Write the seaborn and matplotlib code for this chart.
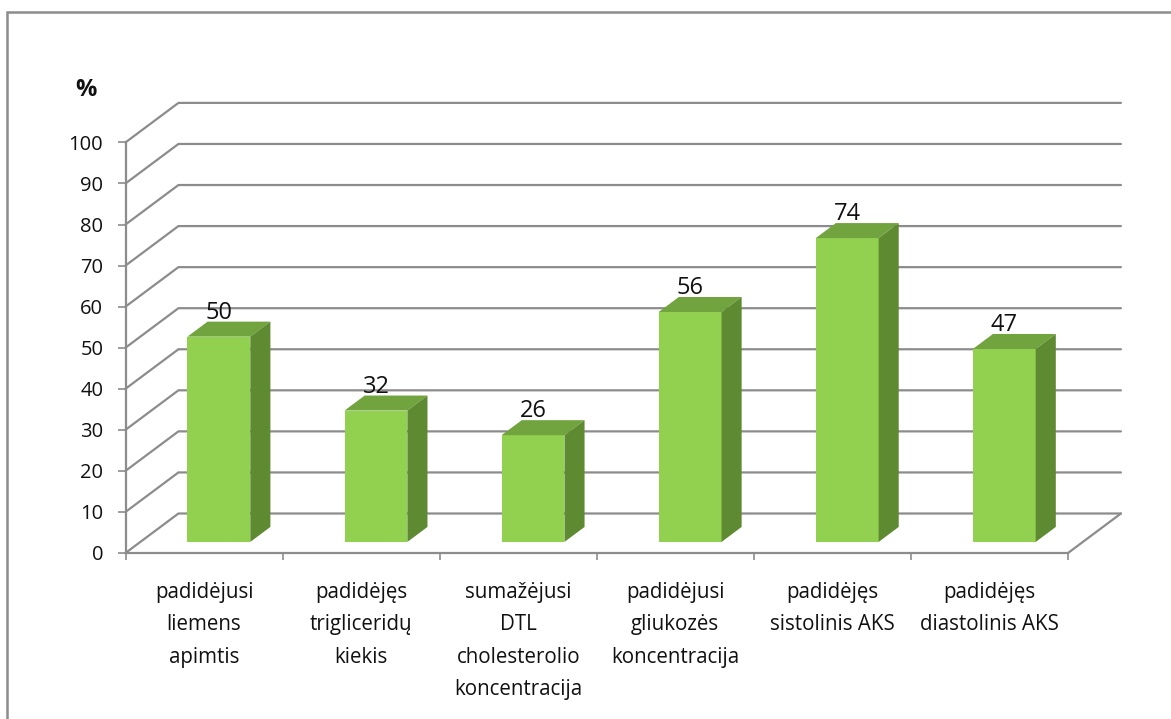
import matplotlib
matplotlib.use("Agg")
import matplotlib.pyplot as plt
from matplotlib.patches import Polygon, Rectangle
import seaborn as sns

# Risk factor prevalence, %
categories = [
    "padidėjusi\nliemens\napimtis",
    "padidėjęs\ntrigliceridų\nkiekis",
    "sumažėjusi\nDTL\ncholesterolio\nkoncentracija",
    "padidėjusi\ngliukozės\nkoncentracija",
    "padidėjęs\nsistolinis AKS",
    "padidėjęs\ndiastolinis AKS",
]
values = [50, 32, 26, 56, 74, 47]
y_ticks = list(range(0, 101, 10))

sns.set_theme(style="white")
plt.rcParams["font.family"] = ["Open Sans", "DejaVu Sans"]

TEXT = "#111111"
GRID = "#8c8c8c"
FRONT = "#92D050"
TOP = "#71A33E"
SIDE = "#5E8A32"

W, H = 1171, 719
fig = plt.figure(figsize=(W / 100, H / 100), dpi=100)
fig.patch.set_facecolor("white")

# front plane of the plot box
ax = fig.add_axes([125.5 / W, (H - 553) / H, (1068 - 125.5) / W, 410.6 / H])
ax.set_facecolor("none")

# oblique depth of the 3D box, in data units (x: categories, y: percent)
DX, DY = 0.337, 9.62
BAR_D0, BAR_T = 0.28, 0.38   # bar front position and thickness as depth fractions

sns.barplot(x=categories, y=values, color=FRONT, saturation=1, width=0.4,
            linewidth=0, ax=ax, zorder=3)

ax.set_xlim(-0.5, 5.5)
ax.set_ylim(0, 100)

# back wall / side wall gridlines
for v in y_ticks:
    ax.plot([-0.5, -0.5 + DX, 5.5 + DX], [v, v + DY, v + DY], color=GRID,
            lw=1.6, clip_on=False, zorder=1, solid_joinstyle="miter")
ax.plot([5.5, 5.5 + DX], [0, DY], color=GRID, lw=1.6, clip_on=False, zorder=1)

# push bars into the box and add their top and side faces
for p, val in zip(ax.patches, values):
    x0 = p.get_x() + BAR_D0 * DX
    y0 = BAR_D0 * DY
    w = p.get_width()
    p.set_x(x0)
    p.set_y(y0)
    x1 = x0 + w
    top = y0 + val
    tx, ty = BAR_T * DX, BAR_T * DY
    ax.add_patch(Polygon([(x0, top), (x1, top), (x1 + tx, top + ty), (x0 + tx, top + ty)],
                         closed=True, facecolor=TOP, edgecolor="none", zorder=3,
                         clip_on=False))
    ax.add_patch(Polygon([(x1, y0), (x1, top), (x1 + tx, top + ty), (x1 + tx, y0 + ty)],
                         closed=True, facecolor=SIDE, edgecolor="none", zorder=3,
                         clip_on=False))
    ax.annotate(f"{val}", xy=(x0 + w / 2, top), xytext=(0, 18),
                textcoords="offset pixels", ha="center", va="baseline",
                fontsize=17, color=TEXT, zorder=5, annotation_clip=False)

# axes styling
for side in ("top", "right"):
    ax.spines[side].set_visible(False)
for side in ("left", "bottom"):
    ax.spines[side].set_color(GRID)
    ax.spines[side].set_linewidth(1.6)
    ax.spines[side].set_zorder(2)

ax.set_yticks(y_ticks)
ax.set_yticklabels([str(t) for t in y_ticks])
ax.tick_params(axis="y", direction="out", length=6, width=1.2, color=GRID,
               pad=10, labelsize=14.5, labelcolor=TEXT, left=True)

ax.set_xticks(range(len(categories)))
ax.set_xticklabels(categories, linespacing=1.7)
ax.set_xticks([i - 0.5 for i in range(len(categories) + 1)], minor=True)
ax.tick_params(axis="x", which="major", length=0, pad=21, labelsize=14.8,
               labelcolor=TEXT)
ax.tick_params(axis="x", which="minor", direction="out", length=5, width=1.2,
               color=GRID, bottom=True)
ax.set_xlabel("")
ax.set_ylabel("")
ax.grid(False)

fig.text(86 / W, 1 - 90 / H, "%", ha="center", va="center", fontsize=17,
         fontweight="bold", color=TEXT)

# chart frame
fig.patches.append(Rectangle((7 / W, -0.1), 1.2, (H - 12) / H + 0.1,
                             transform=fig.transFigure, fill=False,
                             edgecolor=GRID, linewidth=1.8, zorder=0))

fig.savefig("out.png", dpi=100)
